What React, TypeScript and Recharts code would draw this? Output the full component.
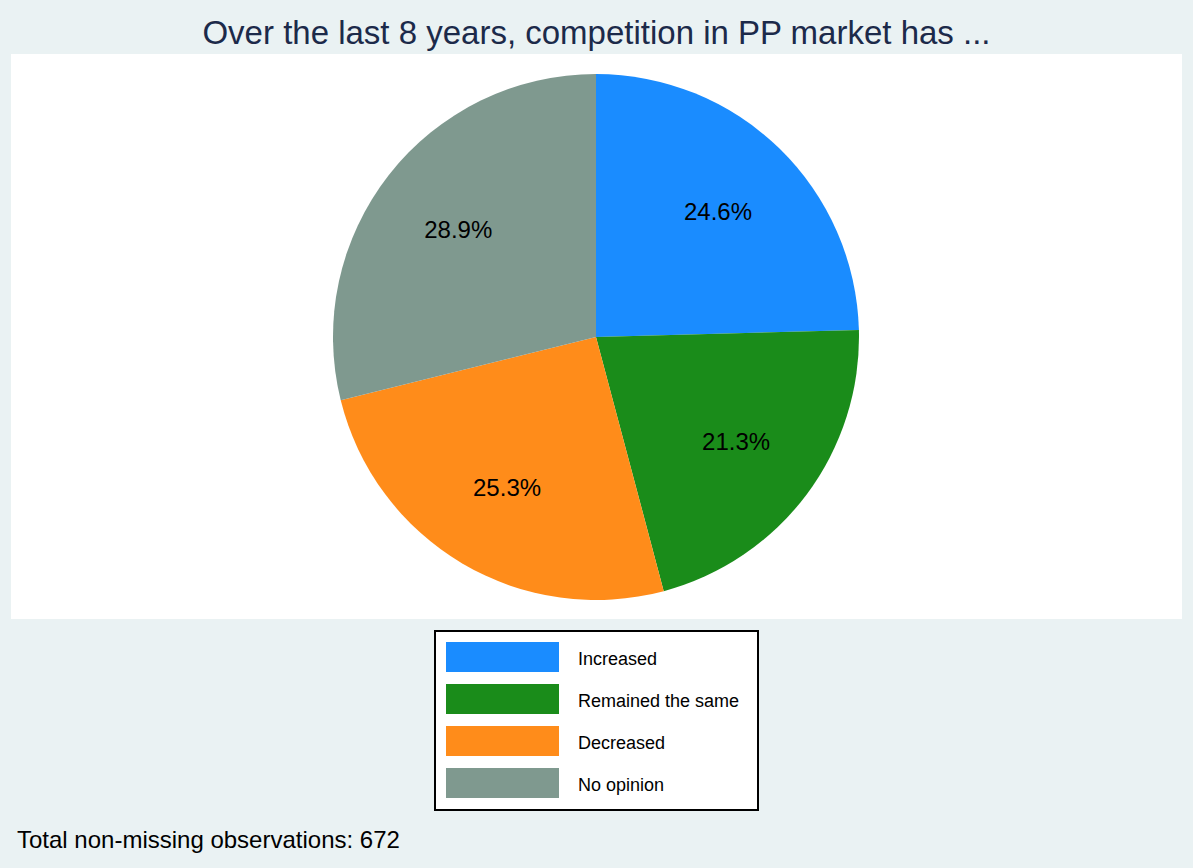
import React from "react";
import { PieChart, Pie, Cell } from "recharts";

const categories = ["Increased", "Remained the same", "Decreased", "No opinion"];
const shares = [24.6, 21.3, 25.3, 28.9];
const COLORS = ["#1a8cff", "#1a8c1a", "#ff8c1a", "#7f998f"];

const TITLE = "Over the last 8 years, competition in PP market has ...";
const NOTE = "Total non-missing observations: 672";

const FONT = "'Liberation Sans', Arial, sans-serif";
const RADIAN = Math.PI / 180;

const data = categories.map((name, i) => ({ name, value: shares[i] }));

function renderLabel(props: any) {
    const { cx, cy, midAngle, outerRadius, value } = props;
    const r = outerRadius * 0.665;
    const x = cx + r * Math.cos(-midAngle * RADIAN);
    const y = cy + r * Math.sin(-midAngle * RADIAN);
    return (
        <text
            x={x}
            y={y}
            fill="#000"
            fontSize={24}
            fontFamily={FONT}
            textAnchor="middle"
            dominantBaseline="central"
        >
            {value.toFixed(1)}%
        </text>
    );
}

export default function App() {
    return (
        <div
            style={{
                position: "absolute",
                left: 0,
                top: 0,
                width: 1193,
                height: 868,
                background: "#eaf2f3",
                fontFamily: FONT,
                overflow: "hidden",
            }}
        >
            <div
                style={{
                    position: "absolute",
                    left: 0,
                    width: 1193,
                    top: 12,
                    textAlign: "center",
                    fontSize: 33,
                    color: "#1c2a4a",
                    lineHeight: "42px",
                    whiteSpace: "nowrap",
                }}
            >
                {TITLE}
            </div>
            <div style={{ position: "absolute", left: 11, top: 54, width: 1171, height: 565, background: "#fff" }}>
                <PieChart width={1171} height={565} margin={{ top: 0, right: 0, bottom: 0, left: 0 }}>
                    <Pie
                        data={data}
                        dataKey="value"
                        nameKey="name"
                        cx={585}
                        cy={283}
                        outerRadius={263}
                        startAngle={90}
                        endAngle={-270}
                        stroke="none"
                        label={renderLabel}
                        labelLine={false}
                        isAnimationActive={false}
                    >
                        {data.map((d, i) => (
                            <Cell key={d.name} fill={COLORS[i % COLORS.length]} />
                        ))}
                    </Pie>
                </PieChart>
            </div>
            <div
                style={{
                    position: "absolute",
                    left: 434,
                    top: 630,
                    width: 321,
                    height: 177,
                    border: "2px solid #000",
                    background: "#fff",
                }}
            >
                {categories.map((c, i) => (
                    <div
                        key={c}
                        style={{ position: "absolute", left: 10, top: 10 + i * 42, height: 30, display: "flex", alignItems: "center" }}
                    >
                        <div style={{ width: 113, height: 30, background: COLORS[i] }} />
                        <span style={{ marginLeft: 19, fontSize: 18, color: "#000", position: "relative", top: 2 }}>{c}</span>
                    </div>
                ))}
            </div>
            <div style={{ position: "absolute", left: 17, top: 825, fontSize: 24, color: "#000", lineHeight: "30px", whiteSpace: "nowrap" }}>
                {NOTE}
            </div>
        </div>
    );
}
